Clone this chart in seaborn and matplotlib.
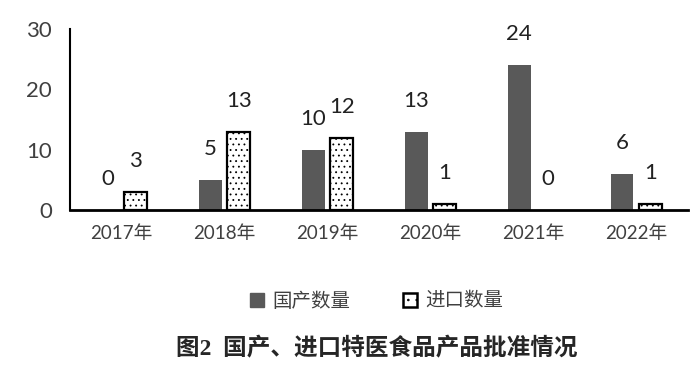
import pandas as pd
import matplotlib.pyplot as plt
import seaborn as sns
from matplotlib.patches import Patch

years = ['2017年', '2018年', '2019年', '2020年', '2021年', '2022年']
domestic = [0, 5, 10, 13, 24, 6]
imported = [3, 13, 12, 1, 0, 1]
series = ['国产数量', '进口数量']
yticks = [0, 10, 20, 30]
caption = '图2  国产、进口特医食品产品批准情况'

df = pd.DataFrame({
    'year': years * 2,
    'count': domestic + imported,
    'kind': [series[0]] * len(years) + [series[1]] * len(years),
})

sns.set_style('white')
plt.rcParams['font.family'] = ['Lato', 'Noto Sans CJK SC', 'DejaVu Sans']
plt.rcParams['hatch.linewidth'] = 0.6
plt.rcParams['hatch.color'] = '#333333'

fig = plt.figure(figsize=(6.94, 3.77), dpi=100)
ax = fig.add_axes([0.101, 0.443, 0.890, 0.480])

sns.barplot(data=df, x='year', y='count', hue='kind', hue_order=series,
            palette=['#595959', 'white'], width=0.55, gap=0.2,
            legend=False, ax=ax)

# dotted pattern with black outline for imported products
for bar in ax.containers[1]:
    bar.set_hatch('...')
    bar.set_edgecolor('black')
    bar.set_linewidth(1.6 if bar.get_height() > 0 else 0)
for bar in ax.containers[0]:
    bar.set_linewidth(0)

for cont in ax.containers:
    ax.bar_label(cont, padding=15, fontsize=16, color='#222222')

ax.set_xlim(-0.5, 5.5)
ax.set_ylim(0, 30)
ax.set_yticks(yticks)
ax.set_xlabel('')
ax.set_ylabel('')
ax.tick_params(axis='y', labelsize=16, labelcolor='#404040', pad=13, length=0)
ax.tick_params(axis='x', labelsize=13.5, labelcolor='#404040', pad=11, length=0)
for side in ['top', 'right']:
    ax.spines[side].set_visible(False)
ax.spines['left'].set_color('black')
ax.spines['left'].set_linewidth(1.5)
ax.spines['bottom'].set_color('black')
ax.spines['bottom'].set_linewidth(2)

handles = [Patch(facecolor='#595959', edgecolor='#595959', label=series[0]),
           Patch(facecolor='white', edgecolor='black', hatch='..', linewidth=1.8,
                 label=series[1])]
fig.legend(handles=handles, loc='center', bbox_to_anchor=(0.543, 0.203), ncol=2,
           frameon=False, fontsize=14, handlelength=0.7, handleheight=0.7,
           handletextpad=0.45, columnspacing=2.7, labelcolor='#404040')

fig.text(0.543, 0.074, caption, ha='center', va='center', fontsize=17,
         fontweight='bold', family=['Liberation Serif', 'Noto Sans CJK SC'])

fig.savefig('out.png', dpi=100, facecolor='white')
